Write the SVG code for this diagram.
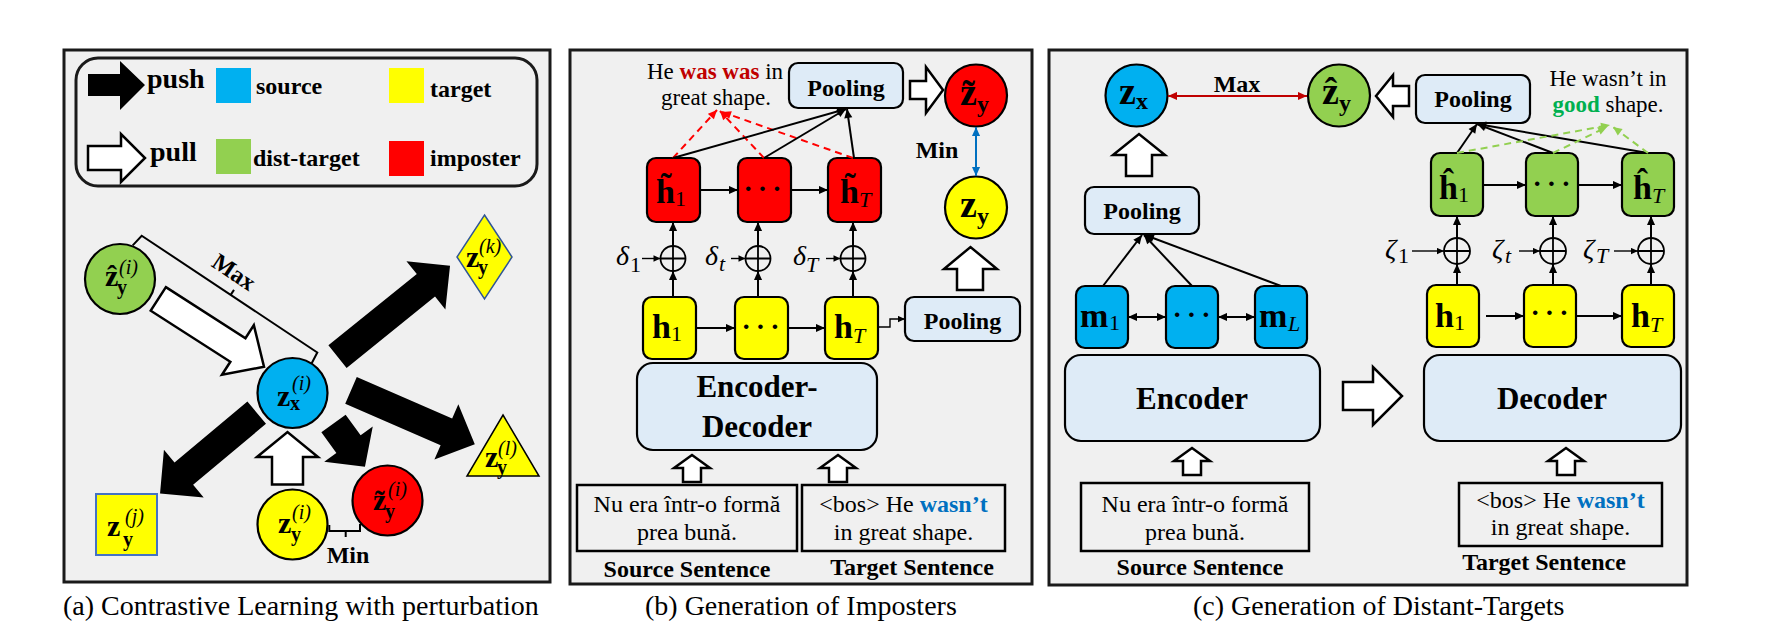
<svg xmlns="http://www.w3.org/2000/svg" width="1766" height="627" viewBox="0 0 1766 627" font-family="'Liberation Serif', 'Times New Roman', 'DejaVu Serif', serif">
<style>
text{font-family:'Liberation Serif','Times New Roman','DejaVu Serif',serif;fill:#000}
.panel{fill:#F0F0F0;stroke:#1a1a1a;stroke-width:3}
.bx{stroke:#000;stroke-width:2.2}
.lb{fill:#DEEBF7}
.rd{fill:#FF0000}
.ye{fill:#FFFF00}
.gr{fill:#92D050}
.bl{fill:#00B0F0}
.b{font-weight:bold}
.it{font-style:italic}
.ln{stroke:#000;stroke-width:2;fill:none}
.thin{stroke:#000;stroke-width:1.4;fill:none}
.push{fill:#000}
.pull{fill:#fff;stroke:#000;stroke-width:2.5}
.sent{fill:none;stroke:#000;stroke-width:2.5}
.plus{fill:none;stroke:#000;stroke-width:1.8}
.t24{font-size:24px}
.t23{font-size:23px}
.cap{font-size:28px}
.zl{font-size:30px;font-weight:bold}
.sb{font-size:20px;font-weight:bold}
.sp{font-size:20px;font-style:italic}
.hl{font-size:34px;font-weight:bold}
.hs{font-size:22px}
.zz{font-size:38px;font-weight:bold}
.zs{font-size:24px;font-weight:bold}
.gk{font-size:28px;font-style:italic}
</style>
<defs>
<marker id="a" viewBox="0 0 10 10" refX="10" refY="5" markerWidth="10" markerHeight="9" markerUnits="userSpaceOnUse" orient="auto-start-reverse"><path d="M0,0.5 L10,5 L0,9.5Z" fill="#000"/></marker>
<marker id="as" viewBox="0 0 10 10" refX="10" refY="5" markerWidth="8" markerHeight="7" markerUnits="userSpaceOnUse" orient="auto-start-reverse"><path d="M0,0.5 L10,5 L0,9.5Z" fill="#000"/></marker>
<marker id="ar" viewBox="0 0 10 10" refX="10" refY="5" markerWidth="10" markerHeight="9" markerUnits="userSpaceOnUse" orient="auto-start-reverse"><path d="M0,0.5 L10,5 L0,9.5Z" fill="#FF0000"/></marker>
<marker id="ag" viewBox="0 0 10 10" refX="10" refY="5" markerWidth="10" markerHeight="9" markerUnits="userSpaceOnUse" orient="auto-start-reverse"><path d="M0,0.5 L10,5 L0,9.5Z" fill="#92D050"/></marker>
<marker id="ab" viewBox="0 0 10 10" refX="10" refY="5" markerWidth="10" markerHeight="9" markerUnits="userSpaceOnUse" orient="auto-start-reverse"><path d="M0,0.5 L10,5 L0,9.5Z" fill="#0070C0"/></marker>
<marker id="ad" viewBox="0 0 10 10" refX="10" refY="5" markerWidth="10" markerHeight="9" markerUnits="userSpaceOnUse" orient="auto-start-reverse"><path d="M0,0.5 L10,5 L0,9.5Z" fill="#C00000"/></marker>
<path id="upw" d="M-9,27 V13 H-18 L0,0 L18,13 H9 V27 Z"/>
</defs>
<rect width="1766" height="627" fill="#fff"/>

<!-- ================= Panel (a) ================= -->
<g id="panel-a">
<rect class="panel" x="64" y="50" width="486" height="532"/>
<g id="legend">
<rect x="76" y="58" width="461" height="128" rx="22" fill="none" stroke="#1a1a1a" stroke-width="3"/>
<polygon class="push" points="88,74 120,74 120,61 145,85 120,110 120,96 88,96"/>
<text x="147" y="88" class="b" font-size="28">push</text>
<polygon class="pull" points="88,146 121,146 121,134 145,158 121,182 121,170 88,170"/>
<text x="150" y="161" class="b" font-size="28">pull</text>
<rect x="216" y="68" width="35" height="35" class="bl"/>
<text x="256" y="94" class="b t24">source</text>
<rect x="389" y="68" width="35" height="35" class="ye"/>
<text x="430" y="97" class="b t24">target</text>
<rect x="216" y="139" width="35" height="35" class="gr"/>
<text x="253" y="166" class="b t24">dist-target</text>
<rect x="389" y="141" width="35" height="35" class="rd"/>
<text x="430" y="166" class="b t24">imposter</text>
</g>
</g>

<g id="node-zyhat-i">
<circle cx="120" cy="279" r="35" class="gr bx"/>
<text x="105" y="286" class="zl">z&#x302;</text><text x="117" y="294" class="sb">y</text><text x="119" y="274" class="sp">(i)</text>
</g>
<g id="node-zx-i">
<circle cx="292.5" cy="393" r="35" class="bl bx"/>
<text x="277" y="406" class="zl">z</text><text x="290" y="410" class="sb">x</text><text x="292" y="390" class="sp">(i)</text>
</g>
<g id="node-zy-k">
<polygon points="484.5,215 512,257 484.5,299 457,257" class="ye" stroke="#2F5597" stroke-width="1.5"/>
<text x="466" y="267" class="zl" font-size="28">z</text><text x="478" y="274" class="sb" font-size="18">y</text><text x="479" y="253" class="sp" font-size="18">(k)</text>
</g>
<g id="node-zy-l">
<polygon points="503,415 539,476 467,476" class="ye" stroke="#000" stroke-width="1.5"/>
<text x="485" y="467" class="zl" font-size="28">z</text><text x="497" y="474" class="sb" font-size="18">y</text><text x="498" y="455" class="sp" font-size="18">(l)</text>
</g>
<g id="node-zy-j">
<rect x="96" y="494" width="61" height="61" class="ye" stroke="#4472C4" stroke-width="2"/>
<text x="107" y="536" class="zl" font-size="34">z</text><text x="123" y="546" class="sb" font-size="24">y</text><text x="125" y="523" class="sp" font-size="24">(j)</text>
</g>
<g id="node-zy-i">
<circle cx="292.5" cy="524.5" r="35" class="ye bx"/>
<text x="278" y="533" class="zl">z</text><text x="291" y="541" class="sb">y</text><text x="292" y="519" class="sp">(i)</text>
</g>
<g id="node-zytilde-i">
<circle cx="387.5" cy="500.5" r="35" class="rd bx"/>
<text x="373" y="510" class="zl">z&#x303;</text><text x="385" y="518" class="sb">y</text><text x="388" y="496" class="sp">(i)</text>
</g>

<g id="connectors-a">
<path class="push" transform="translate(337.5,356.6) rotate(-38.9)" d="M0,-14.5 H113.6 V-31 L144.6,0 L113.6,31 V14.5 H0 Z"/>
<path class="push" transform="translate(351,390.4) rotate(23.5)" d="M0,-14.5 H104 V-30 L135,0 L104,30 V14.5 H0 Z"/>
<path class="push" transform="translate(256.7,412.7) rotate(140.1)" d="M0,-14.5 H95 V-31 L126,0 L95,31 V14.5 H0 Z"/>
<path class="push" transform="translate(333.5,423.5) rotate(54)" d="M0,-15 H25.5 V-30 L53.5,0 L25.5,30 V15 H0 Z"/>
<path class="pull" transform="translate(158.3,298.9) rotate(32.7)" d="M0,-14 H94.6 V-29.5 L125.6,0 L94.6,29.5 V14 H0 Z"/>
<polygon class="pull" points="272,484.6 272,457 257,457 287.5,432 318,457 303,457 303,484.6"/>
<path class="ln" d="M132.7,245.4 L141.7,235.7 L317.3,352.5 L311.7,363.2"/>
<path class="ln" d="M230.7,294.9 l3.3,-5"/>
<text x="229.6" y="278.7" class="b t24" text-anchor="middle" transform="rotate(33.6 229.6 278.7)">Max</text>
<path class="ln" d="M329.3,525 V531 H360 V524 M345.7,531 V537"/>
<text x="348" y="563" class="b t24" text-anchor="middle">Min</text>
</g>
<text x="63" y="615" class="cap">(a) Contrastive Learning with perturbation</text>

<!-- ================= Panel (b) ================= -->
<rect class="panel" x="570" y="50" width="462" height="534"/>
<text x="715" y="79" class="t23" text-anchor="middle">He <tspan class="b" fill="#C00000">was was</tspan> in</text>
<text x="716" y="105" class="t23" text-anchor="middle">great shape.</text>

<g id="b-pool-top"><rect x="789" y="63" width="114" height="45" rx="9" class="lb bx"/><text x="846" y="96" class="b t24" text-anchor="middle">Pooling</text></g>
<g id="b-zytilde"><circle cx="976" cy="95.5" r="31" class="rd bx"/><text x="960" y="105" class="zz">z&#x303;</text><text x="977" y="112" class="zs">y</text></g>
<g id="b-zy"><circle cx="976" cy="207.5" r="31" class="ye bx"/><text x="960" y="217" class="zz">z</text><text x="977" y="224" class="zs">y</text></g>
<g id="b-pool-bot"><rect x="905" y="297" width="115" height="44" rx="9" class="lb bx"/><text x="962.5" y="329" class="b t24" text-anchor="middle">Pooling</text></g>

<g id="b-ht1"><rect x="647" y="158" width="53" height="64" rx="9" class="rd bx"/><text x="656" y="203" class="hl">h&#x303;</text><text x="675" y="206" class="hs">1</text></g>
<g id="b-ht2"><rect x="738" y="158" width="53" height="64" rx="9" class="rd bx"/><text x="765" y="198" class="b" font-size="28" text-anchor="middle" letter-spacing="5">···</text></g>
<g id="b-htT"><rect x="828" y="158" width="53" height="64" rx="9" class="rd bx"/><text x="840" y="203" class="hl">h&#x303;</text><text x="859" y="207" class="hs it">T</text></g>

<g id="b-h1"><rect x="643" y="297" width="53" height="62" rx="9" class="ye bx"/><text x="652" y="338" class="hl">h</text><text x="671" y="341" class="hs">1</text></g>
<g id="b-h2"><rect x="735" y="297" width="53" height="62" rx="9" class="ye bx"/><text x="763" y="336" class="b" font-size="28" text-anchor="middle" letter-spacing="5">···</text></g>
<g id="b-hT"><rect x="825" y="297" width="53" height="62" rx="9" class="ye bx"/><text x="834" y="338" class="hl">h</text><text x="853" y="343" class="hs it">T</text></g>

<g id="b-plus1"><circle cx="673" cy="258.5" r="12.5" class="plus"/><path class="plus" d="M660.5,258.5 H685.5 M673,246 V271"/></g>
<g id="b-plus2"><circle cx="758" cy="258.5" r="12.5" class="plus"/><path class="plus" d="M745.5,258.5 H770.5 M758,246 V271"/></g>
<g id="b-plus3"><circle cx="853" cy="258.5" r="12.5" class="plus"/><path class="plus" d="M840.5,258.5 H865.5 M853,246 V271"/></g>

<text x="616" y="265" class="gk">δ</text><text x="630" y="272" class="hs">1</text>
<text x="705" y="265" class="gk">δ</text><text x="719" y="271" class="hs it">t</text>
<text x="793" y="265" class="gk">δ</text><text x="806" y="272" class="hs it">T</text>

<g id="b-encdec"><rect x="637" y="363" width="240" height="87" rx="16" class="lb bx"/><text x="757" y="397" class="b" font-size="31" text-anchor="middle">Encoder-</text><text x="757" y="437" class="b" font-size="31" text-anchor="middle">Decoder</text></g>
<g id="b-src"><rect x="577" y="485" width="220" height="66" class="sent"/><text x="687" y="512" class="t24" text-anchor="middle">Nu era într-o formă</text><text x="687" y="540" class="t24" text-anchor="middle">prea bună.</text></g>
<g id="b-tgt"><rect x="802" y="485" width="203" height="66" class="sent"/><text x="903.5" y="512" class="t24" text-anchor="middle">&lt;bos&gt; He <tspan class="b" fill="#0070C0">wasn’t</tspan></text><text x="903.5" y="540" class="t24" text-anchor="middle">in great shape.</text></g>
<text x="687" y="577" class="b t24" text-anchor="middle">Source Sentence</text>
<text x="912" y="575" class="b t24" text-anchor="middle">Target Sentence</text>

<g id="connectors-b">
<g stroke="#FF0000" stroke-width="2" stroke-dasharray="7,5" fill="none">
<line x1="673" y1="158" x2="717" y2="110" marker-end="url(#ar)"/>
<line x1="764" y1="158" x2="720" y2="111" marker-end="url(#ar)"/>
<line x1="853" y1="158" x2="722" y2="112" marker-end="url(#ar)"/>
</g>
<line class="ln" x1="673" y1="158" x2="846" y2="109" marker-end="url(#a)"/>
<line class="ln" x1="764" y1="158" x2="846" y2="109" marker-end="url(#a)"/>
<line class="ln" x1="854" y1="158" x2="847" y2="109" marker-end="url(#a)"/>
<line class="ln" x1="700" y1="190" x2="738" y2="190" marker-end="url(#a)"/>
<line class="ln" x1="791" y1="190" x2="828" y2="190" marker-end="url(#a)"/>
<line class="ln" x1="696" y1="328" x2="735" y2="328" marker-end="url(#a)"/>
<line class="ln" x1="788" y1="328" x2="825" y2="328" marker-end="url(#a)"/>
<line class="ln" x1="673" y1="297" x2="673" y2="271" marker-end="url(#a)"/>
<line class="ln" x1="758" y1="297" x2="758" y2="271" marker-end="url(#a)"/>
<line class="ln" x1="853" y1="297" x2="853" y2="271" marker-end="url(#a)"/>
<line class="ln" x1="673" y1="246" x2="673" y2="222" marker-end="url(#a)"/>
<line class="ln" x1="758" y1="246" x2="758" y2="222" marker-end="url(#a)"/>
<line class="ln" x1="853" y1="246" x2="853" y2="222" marker-end="url(#a)"/>
<line class="thin" x1="642" y1="258.5" x2="660.5" y2="258.5" marker-end="url(#as)"/>
<line class="thin" x1="731" y1="258.5" x2="745.5" y2="258.5" marker-end="url(#as)"/>
<line class="thin" x1="826" y1="258.5" x2="840.5" y2="258.5" marker-end="url(#as)"/>
<polyline class="thin" points="878,327 890,327 890,319 905,319" marker-end="url(#as)"/>
<polygon class="pull" points="910,81 926,81 926,67 943,90 926,113 926,99 910,99"/>
<line x1="976" y1="127" x2="976" y2="176" stroke="#0070C0" stroke-width="2" marker-start="url(#ab)" marker-end="url(#ab)"/>
<text x="937" y="158" class="b t24" text-anchor="middle">Min</text>
<polygon class="pull" points="957,290 957,269 944,269 970.5,247 997,269 983,269 983,290"/>
<use href="#upw" class="pull" transform="translate(692,455)"/>
<use href="#upw" class="pull" transform="translate(838,455)"/>
</g>
<text x="645" y="615" class="cap">(b) Generation of Imposters</text>

<!-- ================= Panel (c) ================= -->
<rect class="panel" x="1049" y="50" width="638" height="535"/>
<g id="c-zx"><circle cx="1136.5" cy="95.5" r="31" class="bl bx"/><text x="1119" y="104" class="zz">z</text><text x="1136" y="109" class="zs">x</text></g>
<g id="c-zyhat"><circle cx="1339" cy="95.5" r="31" class="gr bx"/><text x="1322" y="104" class="zz">z&#x302;</text><text x="1339" y="111" class="zs">y</text></g>
<g id="c-pool-r"><rect x="1416" y="75" width="114" height="48" rx="9" class="lb bx"/><text x="1473" y="107" class="b t24" text-anchor="middle">Pooling</text></g>
<text x="1608" y="86" class="t23" text-anchor="middle">He wasn’t in</text>
<text x="1608" y="112" class="t23" text-anchor="middle"><tspan class="b" fill="#00B050">good</tspan> shape.</text>
<g id="c-pool-l"><rect x="1085" y="187" width="114" height="47" rx="9" class="lb bx"/><text x="1142" y="219" class="b t24" text-anchor="middle">Pooling</text></g>

<g id="c-m1"><rect x="1076" y="286" width="52" height="62" rx="9" class="bl bx"/><text x="1080" y="327" class="hl">m</text><text x="1109" y="330" class="hs">1</text></g>
<g id="c-m2"><rect x="1166" y="286" width="52" height="62" rx="9" class="bl bx"/><text x="1194" y="324" class="b" font-size="28" text-anchor="middle" letter-spacing="5">···</text></g>
<g id="c-mL"><rect x="1255" y="286" width="52" height="62" rx="9" class="bl bx"/><text x="1259" y="327" class="hl">m</text><text x="1288" y="331" class="hs it">L</text></g>

<g id="c-enc"><rect x="1065" y="355" width="255" height="86" rx="16" class="lb bx"/><text x="1192" y="409" class="b" font-size="31" text-anchor="middle">Encoder</text></g>
<g id="c-dec"><rect x="1424" y="355" width="257" height="86" rx="16" class="lb bx"/><text x="1552" y="409" class="b" font-size="31" text-anchor="middle">Decoder</text></g>

<g id="c-hh1"><rect x="1431" y="153" width="52" height="63" rx="9" class="gr bx"/><text x="1439" y="199" class="hl">ĥ</text><text x="1458" y="202" class="hs">1</text></g>
<g id="c-hh2"><rect x="1526" y="153" width="52" height="63" rx="9" class="gr bx"/><text x="1554" y="193" class="b" font-size="28" text-anchor="middle" letter-spacing="5">···</text></g>
<g id="c-hhT"><rect x="1622" y="153" width="52" height="63" rx="9" class="gr bx"/><text x="1633" y="199" class="hl">ĥ</text><text x="1652" y="203" class="hs it">T</text></g>

<g id="c-h1"><rect x="1427" y="285" width="52" height="62" rx="9" class="ye bx"/><text x="1435" y="327" class="hl">h</text><text x="1454" y="330" class="hs">1</text></g>
<g id="c-h2"><rect x="1524" y="285" width="52" height="62" rx="9" class="ye bx"/><text x="1552" y="322" class="b" font-size="28" text-anchor="middle" letter-spacing="5">···</text></g>
<g id="c-hT"><rect x="1622" y="285" width="52" height="62" rx="9" class="ye bx"/><text x="1631" y="327" class="hl">h</text><text x="1650" y="332" class="hs it">T</text></g>

<g id="c-plus1"><circle cx="1457" cy="251" r="13" class="plus"/><path class="plus" d="M1444,251 H1470 M1457,238 V264"/></g>
<g id="c-plus2"><circle cx="1553" cy="251" r="13" class="plus"/><path class="plus" d="M1540,251 H1566 M1553,238 V264"/></g>
<g id="c-plus3"><circle cx="1651" cy="251" r="13" class="plus"/><path class="plus" d="M1638,251 H1664 M1651,238 V264"/></g>
<text x="1385" y="258" class="gk">ζ</text><text x="1398" y="263" class="hs">1</text>
<text x="1492" y="258" class="gk">ζ</text><text x="1505" y="263" class="hs it">t</text>
<text x="1583" y="258" class="gk">ζ</text><text x="1596" y="263" class="hs it">T</text>

<g id="c-src"><rect x="1081" y="483" width="228" height="68" class="sent"/><text x="1195" y="512" class="t24" text-anchor="middle">Nu era într-o formă</text><text x="1195" y="540" class="t24" text-anchor="middle">prea bună.</text></g>
<g id="c-tgt"><rect x="1459" y="483" width="203" height="63" class="sent"/><text x="1560.5" y="508" class="t24" text-anchor="middle">&lt;bos&gt; He <tspan class="b" fill="#0070C0">wasn’t</tspan></text><text x="1560.5" y="535" class="t24" text-anchor="middle">in great shape.</text></g>
<text x="1200" y="575" class="b t24" text-anchor="middle">Source Sentence</text>
<text x="1544" y="570" class="b t24" text-anchor="middle">Target Sentence</text>

<g id="connectors-c">
<line x1="1168" y1="96" x2="1307" y2="96" stroke="#C00000" stroke-width="2" marker-start="url(#ad)" marker-end="url(#ad)"/>
<text x="1237" y="92" class="b t24" text-anchor="middle">Max</text>
<polygon class="pull" points="1409,86 1393,86 1393,75 1376,96 1393,117 1393,106 1409,106"/>
<polygon class="pull" points="1126,176 1126,155 1113,155 1139,134 1165,155 1152,155 1152,176"/>
<line class="ln" x1="1103" y1="286" x2="1142" y2="235" marker-end="url(#a)"/>
<line class="ln" x1="1192" y1="286" x2="1144" y2="235" marker-end="url(#a)"/>
<line class="ln" x1="1281" y1="286" x2="1145" y2="235" marker-end="url(#a)"/>
<line class="ln" x1="1128" y1="317" x2="1166" y2="317" marker-start="url(#a)" marker-end="url(#a)"/>
<line class="ln" x1="1218" y1="317" x2="1255" y2="317" marker-start="url(#a)" marker-end="url(#a)"/>
<polygon class="pull" points="1343,382 1373,382 1373,367 1402,396 1373,425 1373,410 1343,410"/>
<use href="#upw" class="pull" transform="translate(1192,448)"/>
<use href="#upw" class="pull" transform="translate(1566,448)"/>
<line class="ln" x1="1457" y1="153" x2="1477" y2="124" marker-end="url(#a)"/>
<line class="ln" x1="1553" y1="153" x2="1477" y2="124" marker-end="url(#a)"/>
<line class="ln" x1="1648" y1="153" x2="1477" y2="124" marker-end="url(#a)"/>
<g stroke="#92D050" stroke-width="2" stroke-dasharray="7,5" fill="none">
<line x1="1457" y1="153" x2="1610" y2="125" marker-end="url(#ag)"/>
<line x1="1553" y1="153" x2="1607" y2="127" marker-end="url(#ag)"/>
<line x1="1648" y1="153" x2="1613" y2="127" marker-end="url(#ag)"/>
</g>
<line class="ln" x1="1483" y1="185" x2="1526" y2="185" marker-end="url(#a)"/>
<line class="ln" x1="1578" y1="185" x2="1622" y2="185" marker-end="url(#a)"/>
<line class="ln" x1="1486" y1="316" x2="1524" y2="316" marker-end="url(#a)"/>
<line class="ln" x1="1577" y1="316" x2="1622" y2="316" marker-end="url(#a)"/>
<line class="ln" x1="1457" y1="285" x2="1457" y2="264" marker-end="url(#a)"/>
<line class="ln" x1="1553" y1="285" x2="1553" y2="264" marker-end="url(#a)"/>
<line class="ln" x1="1651" y1="285" x2="1651" y2="264" marker-end="url(#a)"/>
<line class="ln" x1="1457" y1="238" x2="1457" y2="216" marker-end="url(#a)"/>
<line class="ln" x1="1553" y1="238" x2="1553" y2="216" marker-end="url(#a)"/>
<line class="ln" x1="1651" y1="238" x2="1651" y2="216" marker-end="url(#a)"/>
<line class="thin" x1="1412" y1="251" x2="1444" y2="251" marker-end="url(#as)"/>
<line class="thin" x1="1519" y1="251" x2="1540" y2="251" marker-end="url(#as)"/>
<line class="thin" x1="1614" y1="251" x2="1638" y2="251" marker-end="url(#as)"/>
</g>
<text x="1193" y="615" class="cap">(c) Generation of Distant-Targets</text>
</svg>
